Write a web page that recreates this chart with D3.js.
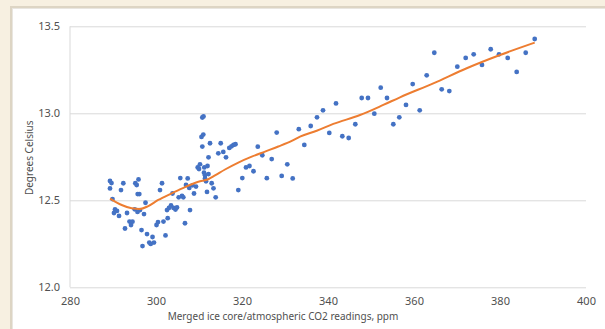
<!DOCTYPE html>
<html>
<head>
<meta charset="utf-8">
<script src="https://cdn.jsdelivr.net/npm/d3@7"></script>
<style>
  html, body { margin: 0; padding: 0; background: #f7f0e1; }
  svg { display: block; }
</style>
</head>
<body>
<div id="grafico"></div>
<script>
// CO2 (ppm) vs temperatura (°C)
const co2 = [
  289.3, 289.65, 289.3, 289.88, 291.86, 292.4, 290.47, 290.93, 290.23, 291.4,
  293.26, 292.79, 293.84, 294.19, 294.53, 295.05, 295.19, 295.51, 295.93, 295.74,
  296.12, 295.7, 296.28, 297.21, 297.56, 296.63, 296.86, 297.91, 298.44, 298.77,
  299.19, 299.53, 300.12, 300.47, 300.93, 301.4, 301.74, 302.21, 302.72, 302.56,
  303.02, 303.49, 304.07, 304.53, 304.88, 303.84, 305.28, 305.65, 306.05, 306.35,
  306.74, 306.98, 307.37, 307.91, 307.74, 308.49, 309.3, 308.84, 309.7, 310.0,
  310.23, 311.23, 311.98, 311.16, 311.4, 312.21, 311.4, 311.63, 311.86, 312.95,
  313.37, 313.88, 310.77, 311.05, 310.58, 311.0, 310.77, 312.56, 315.05, 314.49,
  315.65, 316.28, 312.21, 317.05, 317.56, 318.02, 318.49, 319.14, 320.07, 320.93,
  321.74, 322.67, 323.67, 324.72, 325.77, 326.91, 328.07, 329.23, 330.53, 331.79,
  333.21, 334.49, 335.98, 337.44, 338.84, 340.3, 341.86, 343.33, 344.81, 346.35,
  347.84, 349.3, 350.77, 352.26, 353.72, 355.19, 356.58, 358.14, 359.7, 361.33,
  362.95, 364.72, 366.44, 368.21, 370.07, 372.02, 373.88, 375.81, 377.84, 379.77,
  381.79, 383.88, 385.98, 388.07
];
const temp = [
  12.611, 12.599, 12.568, 12.507, 12.559, 12.598, 12.447, 12.439, 12.427, 12.41,
  12.427, 12.338, 12.378, 12.358, 12.377, 12.448, 12.598, 12.588, 12.62, 12.536,
  12.536, 12.433, 12.444, 12.421, 12.486, 12.329, 12.237, 12.306, 12.257, 12.249,
  12.289, 12.257, 12.358, 12.375, 12.559, 12.598, 12.378, 12.298, 12.397, 12.444,
  12.456, 12.47, 12.456, 12.447, 12.459, 12.539, 12.517, 12.628, 12.525, 12.517,
  12.368, 12.588, 12.626, 12.444, 12.571, 12.586, 12.579, 12.539, 12.689, 12.68,
  12.707, 12.689, 12.697, 12.659, 12.644, 12.651, 12.626, 12.609, 12.548, 12.598,
  12.569, 12.517, 12.976, 12.982, 12.864, 12.878, 12.809, 12.828, 12.828, 12.77,
  12.778, 12.747, 12.747, 12.801, 12.81, 12.818, 12.822, 12.559, 12.628, 12.689,
  12.697, 12.667, 12.808, 12.759, 12.627, 12.737, 12.889, 12.64, 12.707, 12.626,
  12.909, 12.818, 12.927, 12.977, 13.017, 12.887, 13.057, 12.868, 12.858, 12.937,
  13.088, 13.088, 12.998, 13.147, 13.088, 12.937, 12.977, 13.048, 13.168, 13.017,
  13.218, 13.348, 13.138, 13.128, 13.268, 13.318, 13.339, 13.278, 13.368, 13.339,
  13.318, 13.238, 13.348, 13.427
];

// curva suavizada (tendencia)
const trendX = [
  289.3, 292.02, 294.35, 296.28, 298.21, 300.53, 303.65, 306.74, 309.84, 312.16,
  313.72, 316.05, 319.14, 322.26, 325.35, 328.44, 331.56, 333.49, 337.37, 341.23,
  347.44, 352.86, 356.74, 364.49, 372.26, 380.0, 388.07
];
const trendY = [
  12.51, 12.473, 12.454, 12.45, 12.467, 12.502, 12.54, 12.576, 12.607, 12.621,
  12.643, 12.677, 12.717, 12.751, 12.78, 12.809, 12.841, 12.866, 12.9, 12.939,
  12.99, 13.048, 13.092, 13.172, 13.259, 13.335, 13.406
];

const xTicks = [280, 300, 320, 340, 360, 380, 400];
const yTicks = [12.0, 12.5, 13.0, 13.5];
const tituloX = "Merged ice core/atmospheric CO2 readings, ppm";
const tituloY = "Degrees Celsius";

const W = 605, H = 329;
const margin = { top: 26.3, right: 19, bottom: 41.7, left: 70 };
const width = W - margin.left - margin.right;
const height = H - margin.top - margin.bottom;

const svgBase = d3.select('#grafico')
  .append('svg')
  .attr('width', W)
  .attr('height', H);

// panel blanco con borde
svgBase.append('rect')
  .attr('x', 0).attr('y', 0).attr('width', W).attr('height', H)
  .attr('fill', '#f7f0e1');
svgBase.append('rect')
  .attr('x', 10).attr('y', 6).attr('width', W).attr('height', H)
  .attr('fill', '#ddd5c4');
svgBase.append('rect')
  .attr('x', 12).attr('y', 8).attr('width', W).attr('height', H)
  .attr('fill', '#e9e6e0');
svgBase.append('rect')
  .attr('x', 13).attr('y', 9).attr('width', W).attr('height', H)
  .attr('fill', '#ffffff');

const svg = svgBase.append('g')
  .attr('transform', `translate(${margin.left},${margin.top})`);

const x = d3.scaleLinear().domain([280, 400]).range([0, width]);
const y = d3.scaleLinear().domain([12.0, 13.5]).range([height, 0]);

const fuente = "'Noto Sans', 'DejaVu Sans', sans-serif";

// lineas de cuadricula
svg.append('g')
  .call(d3.axisLeft(y).tickValues(yTicks).tickSize(-width).tickFormat(d3.format('.1f')).tickPadding(10))
  .call(g => g.select('.domain').remove())
  .call(g => g.selectAll('line').attr('stroke', '#d9d9d9').attr('stroke-width', 1))
  .selectAll('text')
  .attr('fill', '#505050')
  .style('font-family', fuente)
  .style('font-size', '11px');

svg.append('line')
  .attr('x1', 0).attr('x2', 0).attr('y1', 0).attr('y2', height)
  .attr('stroke', '#d9d9d9');

svg.append('g')
  .attr('transform', `translate(0,${height})`)
  .call(d3.axisBottom(x).tickValues(xTicks).tickSize(0).tickPadding(10))
  .call(g => g.select('.domain').remove())
  .selectAll('text')
  .attr('fill', '#505050')
  .style('font-family', fuente)
  .style('font-size', '11px');

svg.append('text')
  .attr('x', x(330) - 2)
  .attr('y', height + 33)
  .attr('text-anchor', 'middle')
  .attr('fill', '#505050')
  .style('font-family', fuente)
  .style('font-size', '10px')
  .text(tituloX);

svg.append('text')
  .attr('transform', `translate(${30 - margin.left + 3},${y(12.75) + 1}) rotate(-90)`)
  .attr('text-anchor', 'middle')
  .attr('fill', '#505050')
  .style('font-family', fuente)
  .style('font-size', '10px')
  .text(tituloY);

// puntos
const puntos = co2.map((v, i) => ({ x: v, y: temp[i] }));
svg.selectAll('.punto')
  .data(puntos)
  .enter().append('circle')
  .attr('class', 'punto')
  .attr('cx', d => x(d.x))
  .attr('cy', d => y(d.y))
  .attr('r', 2.4)
  .attr('fill', '#4472c4');

// tendencia
const tendencia = trendX.map((v, i) => [v, trendY[i]]);
svg.append('path')
  .datum(tendencia)
  .attr('fill', 'none')
  .attr('stroke', '#ed7d31')
  .attr('stroke-width', 2)
  .attr('stroke-linejoin', 'round')
  .attr('d', d3.line().x(d => x(d[0])).y(d => y(d[1])).curve(d3.curveMonotoneX));
</script>
</body>
</html>
